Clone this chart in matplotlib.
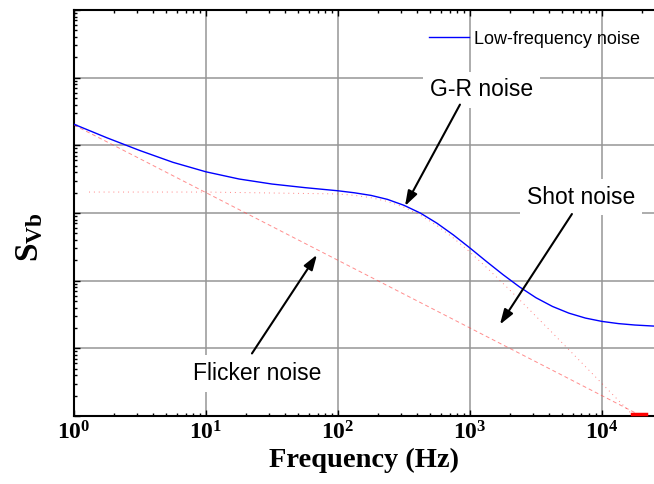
import matplotlib
matplotlib.use("Agg")
import matplotlib.pyplot as plt
from matplotlib.ticker import LogLocator, NullFormatter, FixedLocator

plt.rcParams['mathtext.fontset'] = 'custom'
plt.rcParams['mathtext.bf'] = 'Liberation Serif:bold'
plt.rcParams['mathtext.rm'] = 'Liberation Serif'

# total low-frequency noise (blue curve)
freq = [1, 1.78, 3.16, 5.62, 10, 17.8, 31.6, 56.2, 100, 133, 178, 237, 316, 422,
        562, 750, 1000, 1334, 1778, 2371, 3162, 4217, 5623, 7499, 10000, 13335,
        17783, 25000]
lf_noise = [2.05e4, 1.29e4, 8.37e3, 5.61e3, 4.06e3, 3.18e3, 2.68e3, 2.37e3, 2.13e3,
            1.99e3, 1.82e3, 1.59e3, 1.30e3, 995, 707, 473, 304, 192, 123, 81, 56,
            41.6, 33.1, 28.0, 25.0, 23.2, 22.1, 21.3]

# flicker (1/f) component, red dashed
flicker_f = [1, 10, 100, 1000, 10000, 17800]
flicker = [2.0e4, 2.0e3, 200, 20, 2.0, 1.12]

# G-R (lorentzian) component, red dotted
gr_f = [1.3, 10, 100, 133, 178, 237, 316, 422, 562, 750, 1000, 1334, 1778, 2371,
        3162, 4217, 5623, 7499, 10000, 13335, 17783]
gr = [2040, 2040, 1913, 1823, 1683, 1481, 1219, 928, 652, 426, 264, 157, 91.4,
      52.5, 29.8, 16.9, 9.53, 5.37, 3.02, 1.70, 0.96]

# shot noise piece visible at the bottom right
shot_f = [1.7e4, 2.15e4]
shot = [1.07, 1.07]

xticks = [1, 10, 100, 1000, 10000]
xticklabels = [r'$\mathbf{10^{0}}$', r'$\mathbf{10^{1}}$', r'$\mathbf{10^{2}}$',
               r'$\mathbf{10^{3}}$', r'$\mathbf{10^{4}}$']

fig = plt.figure(figsize=(6.54, 4.84), dpi=100)
ax = fig.add_axes([74/654, 1 - 416/484, 580/654, 406/484])

ax.set_xscale('log')
ax.set_yscale('log')
ax.set_xlim(1, 2.48e4)
ax.set_ylim(1, 1e6)

ax.grid(True, which='major', color='#969696', lw=1.1)
ax.set_axisbelow(True)

ax.plot(freq, lf_noise, color='#0000ff', lw=1.0, label='Low-frequency noise', zorder=4)
ax.plot(flicker_f, flicker, color='#ff5050', lw=0.7, alpha=0.65, dashes=(4, 3), zorder=3)
ax.plot(gr_f, gr, color='#ff4040', lw=0.7, alpha=0.65, linestyle=(0, (1, 4)), zorder=3)
ax.plot(shot_f, shot, color='red', lw=2.5, zorder=3, clip_on=False)

# ticks
ax.xaxis.set_major_locator(FixedLocator(xticks))
ax.set_xticklabels(xticklabels, fontsize=17)
ax.xaxis.set_minor_locator(LogLocator(base=10, subs=range(2, 10), numticks=20))
ax.xaxis.set_minor_formatter(NullFormatter())
ax.yaxis.set_major_locator(LogLocator(base=10, numticks=10))
ax.yaxis.set_minor_locator(LogLocator(base=10, subs=range(2, 10), numticks=20))
ax.yaxis.set_major_formatter(NullFormatter())
ax.yaxis.set_minor_formatter(NullFormatter())
ax.tick_params(which='both', direction='in', top=True, right=False, width=1.0)
ax.tick_params(which='major', length=4)
ax.tick_params(which='minor', length=2.5)
ax.tick_params(axis='x', pad=3)

for s in ['left', 'bottom', 'top']:
    ax.spines[s].set_linewidth(1.5)
ax.spines['right'].set_visible(False)

ax.set_xlabel('Frequency (Hz)', fontsize=20.5, fontweight='bold',
              family='Liberation Serif', labelpad=3)
ax.set_ylabel(r'$\mathbf{S_{Vb}}$', fontsize=24)
ax.yaxis.set_label_coords(-0.05, 0.44)

leg = ax.legend(loc='upper right', frameon=False,
                prop={'family': 'Liberation Sans', 'size': 13},
                handlelength=2.2, handletextpad=0.25, borderaxespad=0.4,
                bbox_to_anchor=(1.0, 0.985))

box = dict(boxstyle='square,pad=0.3', fc='white', ec='none')
arrow = dict(arrowstyle='-|>,head_length=0.9,head_width=0.3', color='black',
             lw=1.5, shrinkA=0, shrinkB=0, mutation_scale=10)

ax.text(1230, 6.6e4, 'G-R noise', fontsize=16.5, family='Liberation Sans',
        ha='center', va='center', bbox=box, zorder=5)
ax.annotate('', xy=(322, 1268), xytext=(840, 4.0e4), arrowprops=arrow, zorder=6)

ax.text(6940, 1.72e3, 'Shot noise', fontsize=16.5, family='Liberation Sans',
        ha='center', va='center', bbox=box, zorder=5)
ax.annotate('', xy=(1687, 22.5), xytext=(5925, 966), arrowprops=arrow, zorder=6)

ax.text(24.3, 4.3, 'Flicker noise', fontsize=16.5, family='Liberation Sans',
        ha='center', va='center', bbox=box, zorder=5)
ax.annotate('', xy=(69.3, 241), xytext=(22.3, 8.4), arrowprops=arrow, zorder=6)

fig.savefig('out.png', dpi=100)
